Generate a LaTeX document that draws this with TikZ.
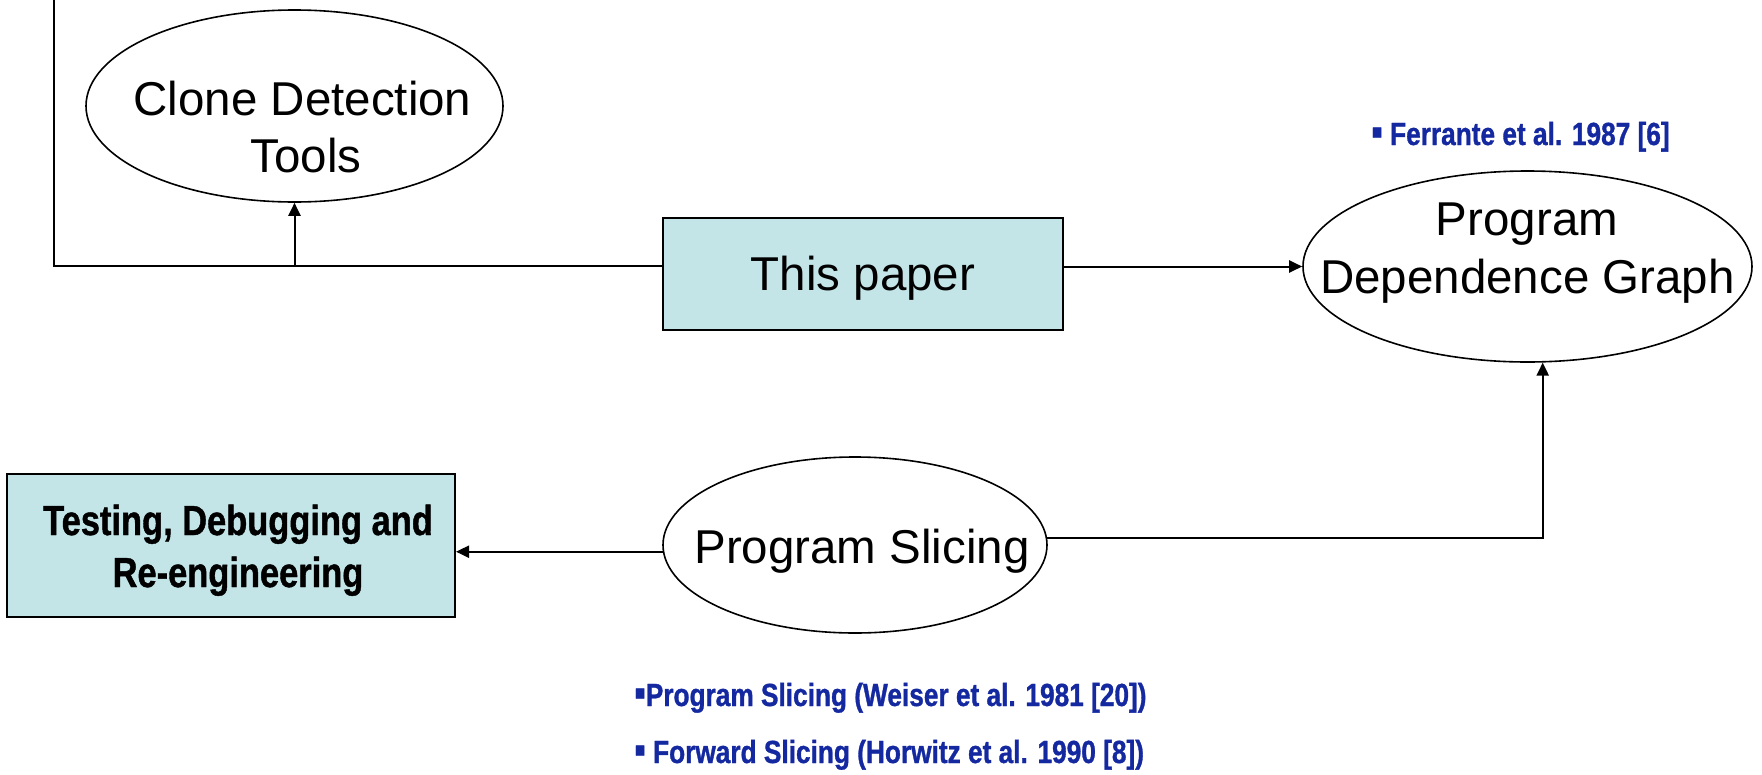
\documentclass[tikz,border=0pt]{standalone}
\usepackage{fontspec}
\setmainfont{Liberation Sans}
\newfontfamily\nb[FakeStretch=0.82,FakeBold=1]{Liberation Sans}
\usetikzlibrary{arrows.meta,shapes.geometric}
\definecolor{boxfill}{HTML}{C3E5E8}
\definecolor{refblue}{HTML}{1428A0}
\newcommand{\sqbul}{{\fontsize{40}{40}\selectfont ▪}}
\begin{document}
\begin{tikzpicture}[x=1pt,y=-1pt,
  conn/.style={line width=2pt},
  arr/.style={conn,-{Triangle[length=13pt,width=12pt]}},
  oval/.style={draw,ellipse,line width=1.6pt,inner sep=0pt},
  fbox/.style={draw,rectangle,fill=boxfill,line width=2pt,inner sep=0pt},
  big/.style={font=\fontsize{47.5}{57}\selectfont,inner sep=0pt,anchor=base},
  boldtxt/.style={font=\nb\bfseries\fontsize{42}{52}\selectfont,inner sep=0pt,anchor=base},
  reftxt/.style={font=\nb\bfseries\fontsize{32}{38}\selectfont,text=refblue,inner sep=0pt,anchor=base west}]
\useasboundingbox (0,0) rectangle (1762,774);

\node[oval,minimum width=417pt,minimum height=192pt] (clone) at (294.5,106) {};
\node[big] (clonet1) at (302.5,115) {Clone Detection};
\node[big] (clonet2) at (306,172) {Tools};

\node[fbox,minimum width=400pt,minimum height=112pt] (paper) at (863,274) {};
\node[big] (papert) at (863,290) {This paper};

\node[oval,minimum width=449pt,minimum height=191pt] (pdg) at (1527.5,266.5) {};
\node[big] (pdgt1) at (1527,235) {Program};
\node[big] (pdgt2) at (1527.5,293) {Dependence Graph};

\node[oval,minimum width=384pt,minimum height=176pt] (ps) at (855,545) {};
\node[big] (pst) at (862,563) {Program Slicing};

\node[fbox,minimum width=448pt,minimum height=143pt] (test) at (231,545.5) {};
\node[boldtxt] (testt1) at (238,535) {Testing, Debugging and};
\node[boldtxt] (testt2) at (238,587) {Re-engineering};

\node[reftxt] (ferr) at (1371,145) {\sqbul\ Ferrante et al. 1987 [6]};
\node[reftxt] (weiser) at (634,706) {\sqbul Program Slicing (Weiser et al. 1981 [20])};
\node[reftxt] (horw) at (634,763) {\sqbul\ Forward Slicing (Horwitz et al. 1990 [8])};

\coordinate (top) at (54,0);
\coordinate (j) at (294.5,266);
\draw[conn] (top) |- (paper.west |- j);
\draw[arr] (j) -- (clone.south);
\draw[arr] (paper.east |- pdg.west) -- (pdg.west);
\draw[arr] (ps.2.4) -| (pdg.279.6);
\draw[arr] (ps.182.4) -- (ps.182.4 -| test.east);
\end{tikzpicture}
\end{document}
